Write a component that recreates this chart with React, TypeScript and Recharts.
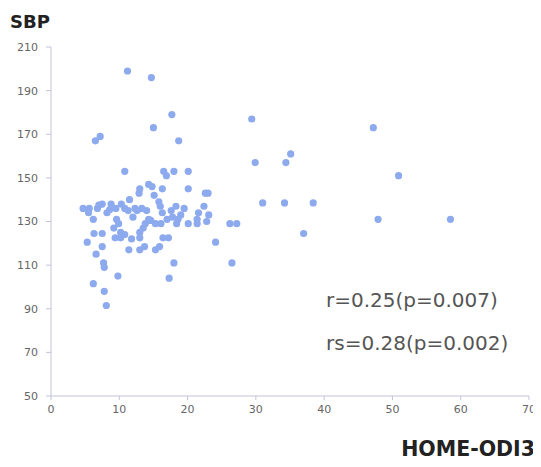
import React from "react";
import { ScatterChart, Scatter, XAxis, YAxis } from "recharts";

const homeOdi3: number[] = [
  11.2, 14.7, 17.7, 29.4, 15.0, 47.2, 7.2, 6.5, 18.7, 35.1, 29.9, 34.4, 10.8, 16.5, 18.0, 20.1,
  16.9, 50.9, 14.3, 14.8, 13.0, 16.3, 20.1, 15.1, 12.9, 22.6, 23.0, 11.5, 15.8, 31.0, 34.2, 38.4,
  4.7, 5.6, 7.5, 8.8, 10.3, 6.8, 9.5, 5.5, 8.2, 12.3, 13.3, 19.5, 18.3, 16.0, 14.0, 11.3,
  17.6, 22.4, 21.6, 12.0, 16.3, 6.2, 9.6, 14.3, 17.8, 18.6, 47.9, 58.5, 23.1, 21.4, 22.8, 13.8,
  15.3, 16.1, 18.4, 20.1, 21.4, 26.2, 27.2, 9.2, 13.5, 6.3, 7.5, 10.2, 13.0, 37.0, 9.4, 10.2,
  10.8, 11.8, 13.0, 16.4, 17.2, 5.3, 24.1, 7.5, 13.7, 15.9, 11.4, 13.0, 15.3, 6.6, 7.7, 18.0,
  26.5, 7.8, 9.8, 6.2, 17.3, 7.8, 8.1, 7.0, 10.8, 12.6, 14.6, 19.0, 8.6, 9.9, 17.0,
];
const sbp: number[] = [
  199, 196, 179, 177, 173, 173, 169, 167, 167, 161, 157, 157, 153, 153, 153, 153,
  151, 151, 147, 146, 145, 145, 145, 142, 143, 143, 143, 140, 139, 138.5, 138.5, 138.5,
  136, 136, 138, 138, 138, 136, 136, 134, 134, 136, 136, 136, 137, 137, 135, 135,
  135, 137, 134, 132, 134, 131, 131, 131, 132, 131, 131, 131, 133, 131, 130, 129,
  129, 129, 129, 129, 129, 129, 129, 127, 127, 124.5, 124.5, 125, 125, 124.5, 122.5, 122.5,
  124, 122, 122.5, 122.5, 122.5, 120.5, 120.5, 118.5, 118.5, 118.5, 117, 117, 117, 115, 111, 111,
  111, 109, 105, 101.5, 104, 98, 91.5, 137.5, 136, 135, 130.5, 133, 135.5, 129, 131,
];
const xTicks: number[] = [0, 10, 20, 30, 40, 50, 60, 70];
const yTicks: number[] = [50, 70, 90, 110, 130, 150, 170, 190, 210];
const yLabel = "SBP";
const xLabel = "HOME-ODI3";
const statLines: string[] = ["r=0.25(p=0.007)", "rs=0.28(p=0.002)"];

const data = homeOdi3.map((x, i) => ({ x, y: sbp[i] }));

const axisColor = "#C3C3DA";
const tickStyle = { fontSize: 11, fill: "#666666", fontFamily: "DejaVu Sans" };

const Dot = (props: any) => (
  <circle cx={props.cx} cy={props.cy} r={3.6} fill="#8DAAEE" />
);

export default function App() {
  return (
    <div style={{ position: "relative", width: 533, height: 451 }}>
      <ScatterChart
        width={533}
        height={451}
        margin={{ top: 39, right: 12, left: 3, bottom: 33 }}
      >
        <XAxis
          type="number"
          dataKey="x"
          domain={[0, 70]}
          ticks={xTicks}
          interval={0}
          stroke={axisColor}
          tick={tickStyle}
          tickSize={4}
          tickMargin={5}
          height={30}
        />
        <YAxis
          type="number"
          dataKey="y"
          domain={[50, 210]}
          ticks={yTicks}
          interval={0}
          stroke={axisColor}
          tick={tickStyle}
          tickSize={5}
          tickMargin={8}
          width={40}
        />
        <Scatter data={data} shape={Dot} isAnimationActive={false} />
      </ScatterChart>
      <svg
        width={533}
        height={458}
        overflow="visible"
        style={{ position: "absolute", left: 0, top: 0, pointerEvents: "none", overflow: "visible" }}
      >
        <text x={2} y={20} fontFamily="DejaVu Sans" fontWeight="bold" fontSize={18} fill="#222222">
          {yLabel}
        </text>
        <text x={527} y={448} textAnchor="end" fontFamily="DejaVu Sans" fontWeight="bold" fontSize={20.5} fill="#222222">
          {xLabel}
        </text>
        <text x={318} y={299} fontFamily="DejaVu Sans" fontSize={20} fill="#555555">
          {statLines[0]}
        </text>
        <text x={318} y={342} fontFamily="DejaVu Sans" fontSize={20} fill="#555555">
          {statLines[1]}
        </text>
      </svg>
    </div>
  );
}
